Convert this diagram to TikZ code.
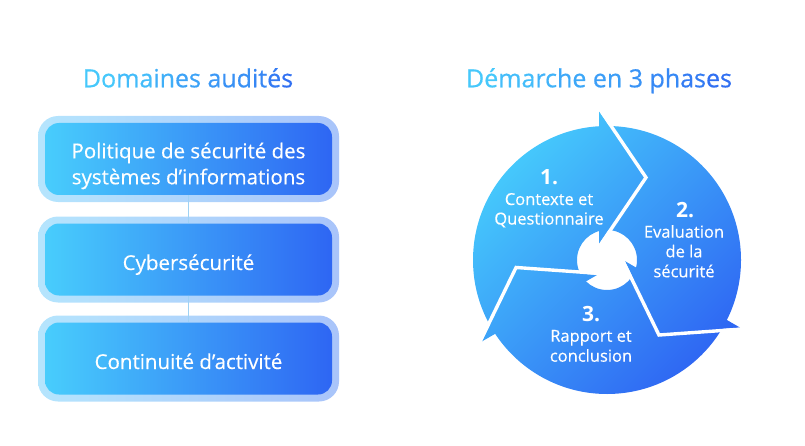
\documentclass[tikz,border=0pt]{standalone}
\usepackage{fontspec}
\setmainfont{Open Sans}
\newfontfamily\medfont[FakeBold=0.35]{Open Sans}
\newfontfamily\semifont[FakeBold=0.6]{Open Sans}
\definecolor{gA}{HTML}{48CDFC}
\definecolor{gB}{HTML}{2E66F3}
\definecolor{hA}{HTML}{B5E5FD}
\definecolor{hB}{HTML}{A9C4FA}
\definecolor{lineC}{HTML}{9FD2F4}
\definecolor{tA}{HTML}{46C8FB}
\definecolor{tB}{HTML}{3170F2}
\definecolor{cA}{HTML}{46CBFC}
\definecolor{cB}{HTML}{2F68F3}
\begin{document}
\begin{tikzpicture}[x=1pt,y=1pt,
  halo/.style={shade, left color=hA, right color=hB, rounded corners=20pt,
    minimum width=301pt, minimum height=86pt, inner sep=0pt},
  box/.style={shade, left color=gA, right color=gB, rounded corners=14pt,
    minimum width=287pt, minimum height=72pt, inner sep=0pt},
  boxtxt/.style={text=white, inner sep=0pt, anchor=base, font=\medfont\fontsize{20.5}{26}\selectfont},
  conn/.style={draw=lineC, line width=1pt},
  title/.style={inner sep=0pt, anchor=base, font=\semifont\fontsize{25}{30}\selectfont},
  numtxt/.style={text=white, inner sep=0pt, anchor=base, font=\fontsize{21}{25}\bfseries\selectfont},
  phtxt/.style={text=white, inner sep=0pt, anchor=base, font=\medfont\fontsize{16.5}{19.5}\selectfont},
  gap/.style={draw=white, line width=3.4pt, line join=miter}
]
\useasboundingbox (0,0) rectangle (805,445);

% ---------- titles ----------
\node[title] (t1) at (188,357.7) {\textcolor{tA}{Do}\textcolor{tA!86!tB}{ma}\textcolor{tA!72!tB}{in}\textcolor{tA!58!tB}{es} \textcolor{tA!46!tB}{a}\textcolor{tA!38!tB}{ud}\textcolor{tA!26!tB}{it}\textcolor{tA!12!tB}{é}\textcolor{tB}{s}};
\node[title] (t2) at (599,357.7) {\textcolor{tA}{Dé}\textcolor{tA!88!tB}{ma}\textcolor{tA!76!tB}{rc}\textcolor{tA!64!tB}{he} \textcolor{tA!52!tB}{en} \textcolor{tA!40!tB}{3} \textcolor{tA!28!tB}{ph}\textcolor{tA!14!tB}{as}\textcolor{tB}{es}};

% ---------- left column ----------
\node[halo] (h1) at (188.5,286) {};
\node[halo] (h2) at (188.5,185.5) {};
\node[halo] (h3) at (188.5,86.5) {};
\node[box] (b1) at (h1) {};
\node[box] (b2) at (h2) {};
\node[box] (b3) at (h3) {};
\draw[conn] (b1.south) -- (b2.north);
\draw[conn] (b2.south) -- (b3.north);
\node[boxtxt] (b1l1) at ([yshift=0.7pt]b1.center) {Politique de sécurité des};
\node[boxtxt] (b1l2) at ([yshift=-25.3pt]b1.center) {systèmes d’informations};
\node[boxtxt] (b2l1) at ([yshift=-10.5pt]b2.center) {Cybersécurité};
\node[boxtxt] (b3l1) at ([yshift=-10.5pt]b3.center) {Continuité d’activité};

% ---------- cycle ----------
\begin{scope}[shift={(607,185)}]
  \shade[top color=cA, bottom color=cB, shading angle=45]
    (134pt,0pt) arc[start angle=0,end angle=360,radius=134pt] -- cycle
    (30pt,0pt) arc[start angle=0,end angle=-360,radius=30pt] -- cycle
    \foreach \a in {0,-120,-240}{
      (93.07+\a:149.2pt) -- (116.57+\a:17.9pt) -- (65.85+\a:90.4pt) -- cycle
    };
  \foreach \a in {0,-120,-240}{
    \draw[gap, rotate=\a] (-8.8,153.1) -- (39,82.5) -- (-8.8,11.9);
  }
\end{scope}

\node[numtxt] (n1) at (549,261) {1.};
\node[phtxt] (p1a) at (549,240) {Contexte et};
\node[phtxt] (p1b) at (549,220.5) {Questionnaire};
\node[numtxt] (n2) at (685,227.7) {2.};
\node[phtxt] (p2a) at (684,207.3) {Evaluation};
\node[phtxt] (p2b) at (684,187.7) {de la};
\node[phtxt] (p2c) at (684,167.7) {sécurité};
\node[numtxt] (n3) at (591,123.3) {3.};
\node[phtxt] (p3a) at (591,103.3) {Rapport et};
\node[phtxt] (p3b) at (591,83.3) {conclusion};
\end{tikzpicture}
\end{document}
